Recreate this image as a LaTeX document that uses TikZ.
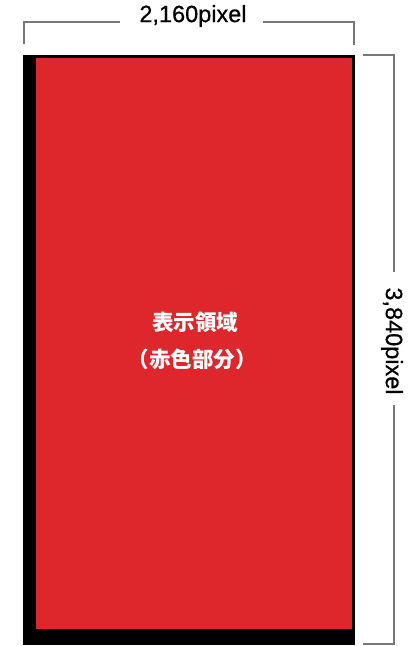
\documentclass[tikz,border=0pt]{standalone}
\usepackage{fontspec}
\setmainfont{Liberation Sans}
\newfontfamily\jpfont{Noto Sans CJK JP}
\newfontfamily\dimfont[FakeBold=0.6]{Liberation Sans}
\definecolor{dispred}{RGB}{222,39,44}
\definecolor{dimgray}{RGB}{120,120,120}
\begin{document}
\begin{tikzpicture}[x=1pt,y=-1pt,
  dimline/.style={draw=dimgray,line width=1.3pt},
  dimlabel/.style={font=\dimfont\fontsize{23.5}{23.5}\selectfont,inner sep=0pt},
  jplabel/.style={font=\jpfont\bfseries\fontsize{21.5}{21.5}\selectfont,text=white,inner sep=0pt}]
\useasboundingbox (0,0) rectangle (410,646);
% device frame
\fill[black] (23,55) rectangle (355,645);
\node[fill=dispred,minimum width=316pt,minimum height=571pt,inner sep=0pt,anchor=north west] (screen) at (36,58) {};
\node[jplabel] (t1) at (195,322) {表示領域};
\node[jplabel] (t2) at (192,359) {（赤色部分）};
% top dimension
\node[dimlabel] (wlabel) at (193,16) {2,160pixel};
\coordinate (tl0) at (24,44);
\coordinate (tl1) at (24,22);
\coordinate (tr0) at (354,45);
\coordinate (tr1) at (354,22);
\draw[dimline] (tl0) -- (tl1) -- (120,22);
\draw[dimline] (tr0) -- (tr1) -- (263,22);
% right dimension
\node[dimlabel,rotate=-90] (hlabel) at (392,341) {3,840pixel};
\coordinate (rt0) at (363,55);
\coordinate (rt1) at (394,55);
\coordinate (rb0) at (363,644);
\coordinate (rb1) at (394,644);
\draw[dimline] (rt0) -- (rt1) -- (394,272);
\draw[dimline] (rb0) -- (rb1) -- (394,405);
\end{tikzpicture}
\end{document}
